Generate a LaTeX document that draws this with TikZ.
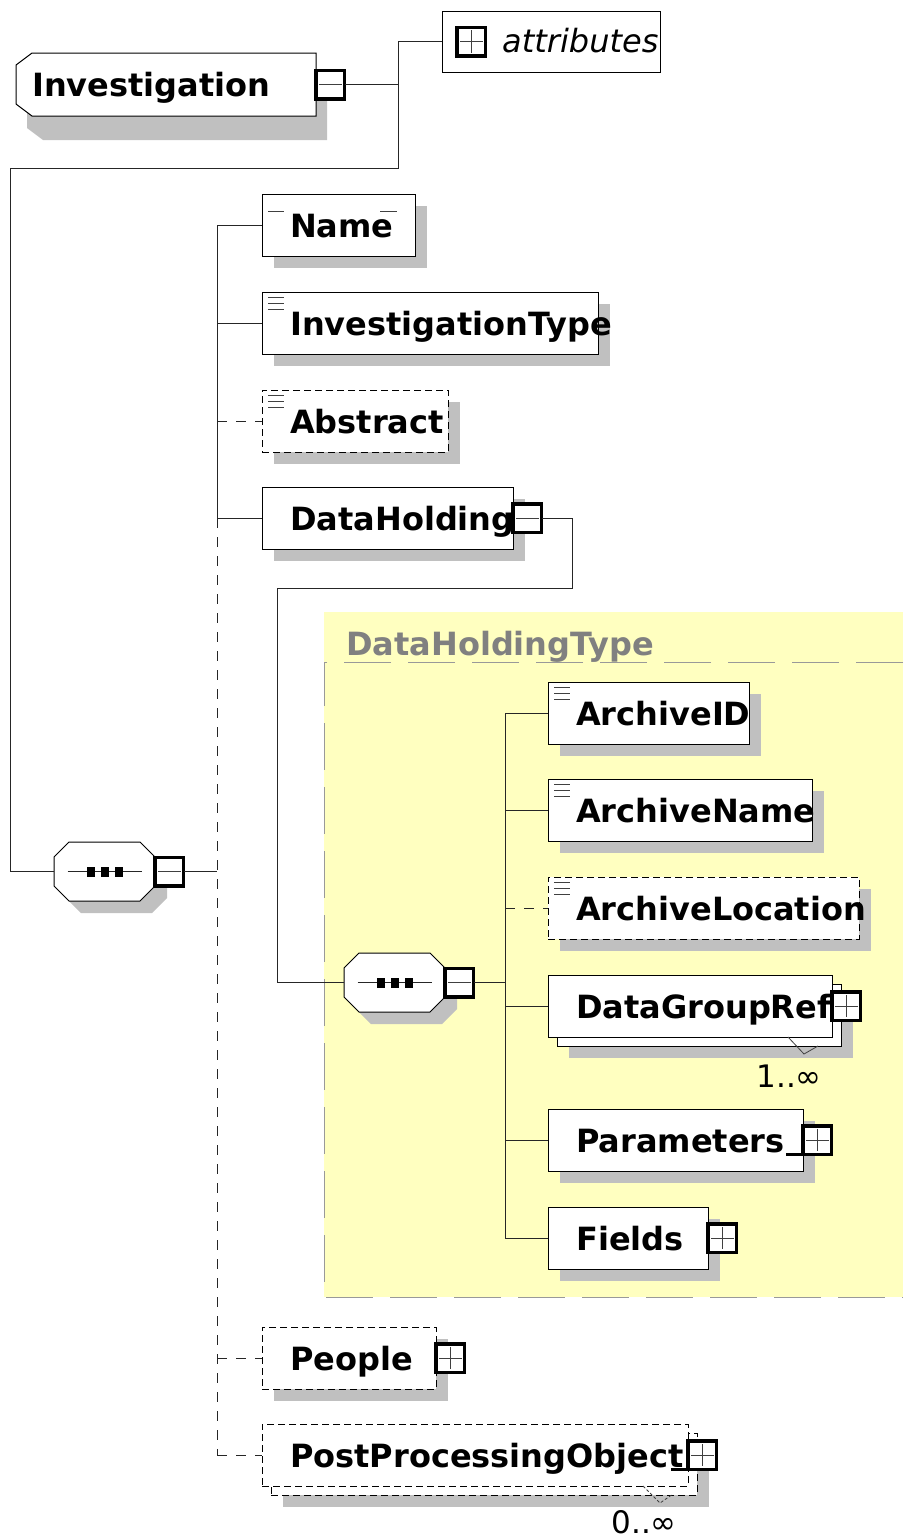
\documentclass[tikz,border=0pt]{standalone}
\usepackage{fontspec}
\setmainfont{DejaVu Sans}
\usetikzlibrary{calc,shadows}
\definecolor{shadowgray}{HTML}{C0C0C0}
\definecolor{typebg}{HTML}{FFFFC0}
\definecolor{typeline}{HTML}{999999}
\definecolor{typetitle}{HTML}{808080}

\begin{document}
\begin{tikzpicture}[x=1pt, y=-1pt,
  conn/.style={draw=black!85, line width=1pt},
  opt/.style={dash pattern=on 10pt off 9pt},
  outline/.style={draw=black, fill=white, line width=1pt},
  shadowed/.style={drop shadow={shadow xshift=12pt, shadow yshift=-12pt, fill=shadowgray, opacity=1}},
  box/.style={outline, inner sep=0pt, outer sep=0pt, minimum height=62, anchor=north west},
  elem/.style={box, shadowed},
  optelem/.style={elem, dash pattern=on 7pt off 4pt},
  multi/.style={box,
    drop shadow={shadow xshift=21pt, shadow yshift=-21pt, fill=shadowgray, opacity=1},
    copy shadow={shadow xshift=9pt, shadow yshift=-9pt, draw=black, fill=white}},
  optmulti/.style={multi, dash pattern=on 7pt off 4pt},
  icon/.style={draw=black!75, line width=.8pt},
  pm/.style={draw=black, line width=3.5pt, fill=white, minimum size=28.5, inner sep=0pt, outer sep=0pt, anchor=west},
  minus/.style={pm, path picture={
    \draw[icon] ([xshift=3pt]path picture bounding box.west) -- ([xshift=-3pt]path picture bounding box.east);}},
  plus/.style={pm, path picture={
    \draw[icon] ([xshift=3pt]path picture bounding box.west) -- ([xshift=-3pt]path picture bounding box.east)
      ([yshift=-3pt]path picture bounding box.north) -- ([yshift=3pt]path picture bounding box.south);}},
  tag/.style={anchor=base west, inner sep=0pt, font=\fontsize{32}{38}\selectfont\bfseries},
  occurs/.style={anchor=base east, inner sep=0pt, font=\fontsize{31}{36}\selectfont}]
\useasboundingbox (0,0) rectangle (903,1539);

% Root element with chamfered left end
\node[inner sep=0pt, outer sep=0pt, minimum width=300, minimum height=63, anchor=north west] (inv) at (16,53) {};
\draw[outline, drop shadow={shadow xshift=11pt, shadow yshift=-24pt, fill=shadowgray, opacity=1}]
  ([yshift=-12pt]inv.north west) -- ([xshift=16pt]inv.north west) -- (inv.north east)
  -- (inv.south east) -- ([xshift=16pt]inv.south west) -- ([yshift=12pt]inv.south west) -- cycle;
\node[tag] (inv-t) at ([xshift=16pt, yshift=-12pt]inv.west) {Investigation};
\node[minus] (inv-m) at (inv.east) {};

% Attribute group
\node[box, minimum width=218, minimum height=61] (attr) at (442,11) {};
\node[plus] (attr-p) at ([xshift=15pt]attr.west) {};
\node[tag, font=\fontsize{32}{38}\selectfont\itshape] (attr-t) at ([xshift=60pt, yshift=-11pt]attr.west) {attributes};

% Complex type area
\node[fill=typebg, inner sep=0pt, outer sep=0pt, minimum width=579, minimum height=685, anchor=north west] (dht) at (324,612) {};
\draw[draw=typeline, line width=1pt, dash pattern=on 47pt off 17pt]
  ([yshift=-50pt]dht.north east) -- ([yshift=-50pt]dht.north west) -- (dht.south west) -- (dht.south east);
\node[tag, text=typetitle] (dht-t) at ([xshift=22pt, yshift=-43pt]dht.north west) {DataHoldingType};

% Sequence compositors
\node[inner sep=0pt, outer sep=0pt, minimum width=101, minimum height=59, anchor=north west] (seq1) at (54,842) {};
\node[inner sep=0pt, outer sep=0pt, minimum width=101, minimum height=59, anchor=north west] (seq2) at (344,953) {};
\foreach \sq in {seq1, seq2} {
  \draw[outline, shadowed] ([yshift=-15pt]\sq.north west) -- ([xshift=15pt]\sq.north west)
    -- ([xshift=-15pt]\sq.north east) -- ([yshift=-15pt]\sq.north east)
    -- ([yshift=15pt]\sq.south east) -- ([xshift=-15pt]\sq.south east)
    -- ([xshift=15pt]\sq.south west) -- ([yshift=15pt]\sq.south west) -- cycle;
  \draw[conn] ([xshift=-37pt]\sq.center) -- ([xshift=37pt]\sq.center);
  \foreach \dx in {-14,0,14}
    \fill ($(\sq.center)+(\dx,0)$) +(-4,-5) rectangle +(4,5);
  \node[minus] (\sq-m) at (\sq.east) {};
}

% Required children
\foreach \nm/\x/\y/\w/\txt in {name/262/194/153/Name, itype/262/292/336/InvestigationType,
    dh/262/487/251/DataHolding, aid/548/682/201/ArchiveID, aname/548/779/264/ArchiveName,
    params/548/1109/255/Parameters, fields/548/1207/160/Fields} {
  \node[elem, minimum width=\w] (\nm) at (\x,\y) {};
  \node[tag] (\nm-t) at ([xshift=28pt, yshift=-12pt]\nm.west) {\txt};
}

% Optional children
\foreach \nm/\x/\y/\w/\txt in {abstract/262/390/186/Abstract, aloc/548/877/311/ArchiveLocation,
    people/262/1327/174/People} {
  \node[optelem, minimum width=\w] (\nm) at (\x,\y) {};
  \node[tag] (\nm-t) at ([xshift=28pt, yshift=-12pt]\nm.west) {\txt};
}

% Repeated children
\node[multi, minimum width=284] (dgr) at (548,975) {};
\node[tag] (dgr-t) at ([xshift=28pt, yshift=-12pt]dgr.west) {DataGroupRef};
\node[optmulti, minimum width=426] (ppo) at (262,1424) {};
\node[tag] (ppo-t) at ([xshift=28pt, yshift=-12pt]ppo.west) {PostProcessingObject};

% Simple content markers
\foreach \b in {itype, abstract, aid, aname, aloc}
  \foreach \dy in {5,11,17}
    \draw[icon] ($(\b.north west)+(6,\dy)$) -- ++(16,0);
\draw[icon] ($(name.north west)+(6,17)$) -- ++(16,0);
\draw[icon] ($(name.north east)+(-35,17)$) -- ++(17,0);

% Expand / collapse boxes
\node[minus] (dh-m) at (dh.east) {};
\foreach \b in {dgr, params, fields, people, ppo}
  \node[plus] (\b-p) at (\b.east) {};
\foreach \b in {params, ppo}
  \draw[line width=3pt] (\b-p.south west) -- ++(-17,0);

% Occurrence marks
\draw[icon] ([xshift=-44pt]dgr.south east) -- ++(16,17) -- ++(14,-8);
\draw[icon, dash pattern=on 3pt off 2pt] ([xshift=-45pt]ppo.south east) -- ++(17,17) -- ++(13,-9);
\node[occurs] (dgr-o) at ([xshift=-10pt, yshift=-50pt]dgr.south east) {1..∞};
\node[occurs] (ppo-o) at ([xshift=-11pt, yshift=-47pt]ppo.south east) {0..∞};

% Links
\coordinate (invdrop) at (398,168);
\coordinate (dhdrop) at (572,588);
\coordinate (trunk1) at (217,0);
\coordinate (trunk2) at (505,0);
\draw[conn] (inv-m.east) -- (inv-m.east -| invdrop);
\draw[conn] (attr.west) -| (invdrop) -| ([xshift=-44pt]seq1.west) -- (seq1.west);
\draw[conn] (dh-m.east) -| (dhdrop) -| ([xshift=-67pt]seq2.west) -- (seq2.west);

\draw[conn] (seq1-m.east) -- (seq1-m.east -| trunk1);
\draw[conn] (name.west -| trunk1) -- (dh.west -| trunk1);
\draw[conn, opt] (dh.west -| trunk1) -- (ppo.west -| trunk1);
\foreach \b in {name, itype, dh}
  \draw[conn] (\b.west -| trunk1) -- (\b.west);
\foreach \b in {abstract, people, ppo}
  \draw[conn, opt] (\b.west -| trunk1) -- (\b.west);

\draw[conn] (seq2-m.east) -- (seq2-m.east -| trunk2);
\draw[conn] (aid.west -| trunk2) -- (fields.west -| trunk2);
\foreach \b in {aid, aname, dgr, params, fields}
  \draw[conn] (\b.west -| trunk2) -- (\b.west);
\draw[conn, opt] (aloc.west -| trunk2) -- (aloc.west);

\end{tikzpicture}
\end{document}
